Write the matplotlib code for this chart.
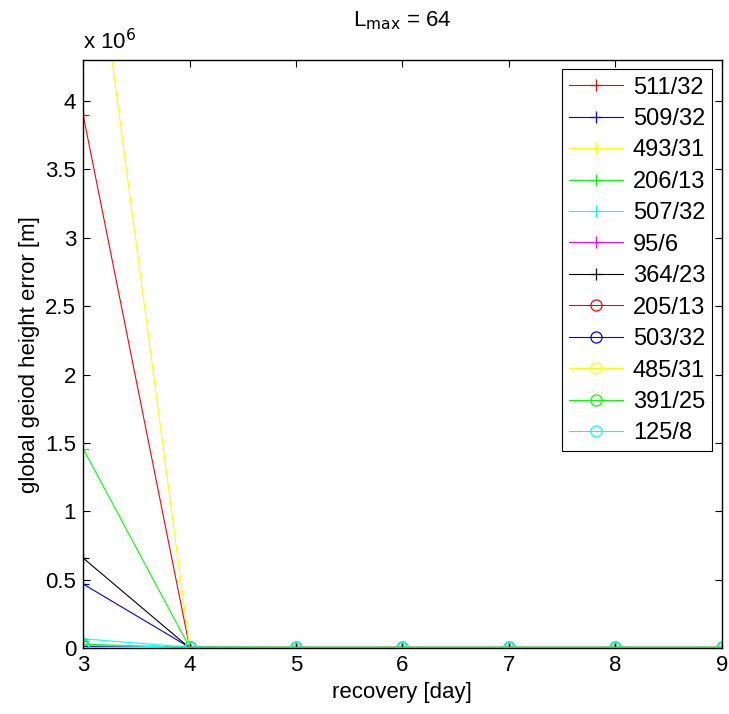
import matplotlib
matplotlib.use("Agg")
import matplotlib.pyplot as plt

plt.rcParams['font.family'] = ['Liberation Sans', 'DejaVu Sans']

days = [3, 4, 5, 6, 7, 8, 9]
labels = ['511/32', '509/32', '493/31', '206/13', '507/32', '95/6', '364/23',
          '205/13', '503/32', '485/31', '391/25', '125/8']
colors = ['#ff0000', '#0000ff', '#ffff00', '#00ff00', '#00ffff', '#ff00ff', '#000000',
          '#ff0000', '#0000ff', '#ffff00', '#00ff00', '#00ffff']
markers = ['+'] * 7 + ['o'] * 5

v511_32 = [3.90e6, 9e3, 8e3, 8e3, 8e3, 8e3, 8e3]
v509_32 = [0.47e6, 7e3, 6e3, 6e3, 6e3, 6e3, 6e3]
v493_31 = [5.90e6, 9e3, 8e3, 8e3, 8e3, 8e3, 8e3]
v206_13 = [1.46e6, 8e3, 7e3, 7e3, 7e3, 7e3, 7e3]
v507_32 = [0.07e6, 7e3, 6e3, 6e3, 6e3, 6e3, 6e3]
v95_6 = [0.012e6, 6e3, 5e3, 5e3, 5e3, 5e3, 5e3]
v364_23 = [0.66e6, 3e3, 3e3, 3e3, 3e3, 3e3, 3e3]
v205_13 = [0.02e6, 6e3, 5e3, 5e3, 5e3, 5e3, 5e3]
v503_32 = [0.012e6, 6e3, 5e3, 5e3, 5e3, 5e3, 5e3]
v485_31 = [0.006e6, 5e3, 5e3, 5e3, 5e3, 5e3, 5e3]
v391_25 = [0.03e6, 7e3, 6e3, 6e3, 6e3, 6e3, 6e3]
v125_8 = [0.022e6, 8e3, 7e3, 7e3, 7e3, 7e3, 7e3]

series = [v511_32, v509_32, v493_31, v206_13, v507_32, v95_6, v364_23,
          v205_13, v503_32, v485_31, v391_25, v125_8]

yticks = [0, 0.5e6, 1e6, 1.5e6, 2e6, 2.5e6, 3e6, 3.5e6, 4e6]
ytick_labels = ['0', '0.5', '1', '1.5', '2', '2.5', '3', '3.5', '4']

fig = plt.figure(figsize=(7.29, 7.14), dpi=100)
ax = fig.add_axes([0.114, 0.092, 0.876, 0.824])

for vals, lab, c, m in zip(series, labels, colors, markers):
    ax.plot(days, vals, color=c, marker=m, markersize=9 if m == '+' else 8,
            markerfacecolor='none', markeredgewidth=0.9, linewidth=0.8, label=lab)

ax.set_xlim(3, 9)
ax.set_ylim(0, 4.3e6)
ax.set_xticks(days)
ax.set_yticks(yticks)
ax.set_yticklabels(ytick_labels)
ax.tick_params(direction='in', top=True, right=True, labelsize=16, length=5, pad=5)
for s in ax.spines.values():
    s.set_linewidth(1.0)

ax.set_xlabel('recovery [day]', fontsize=16, labelpad=4)
ax.set_ylabel('global geiod height error [m]', fontsize=16, labelpad=4)
ax.set_title('L$_{\\mathrm{max}}$ = 64', fontsize=16, pad=24)
ax.text(0.0, 1.01, 'x 10$^{6}$', transform=ax.transAxes, fontsize=16,
        ha='left', va='bottom')

leg = ax.legend(loc='upper right', fontsize=17, fancybox=False, framealpha=1,
                edgecolor='black', borderaxespad=0.4, handlelength=2.3,
                labelspacing=0.4, borderpad=0.3, handletextpad=0.4)
leg.get_frame().set_linewidth(0.8)

fig.savefig('out.png', dpi=100)
